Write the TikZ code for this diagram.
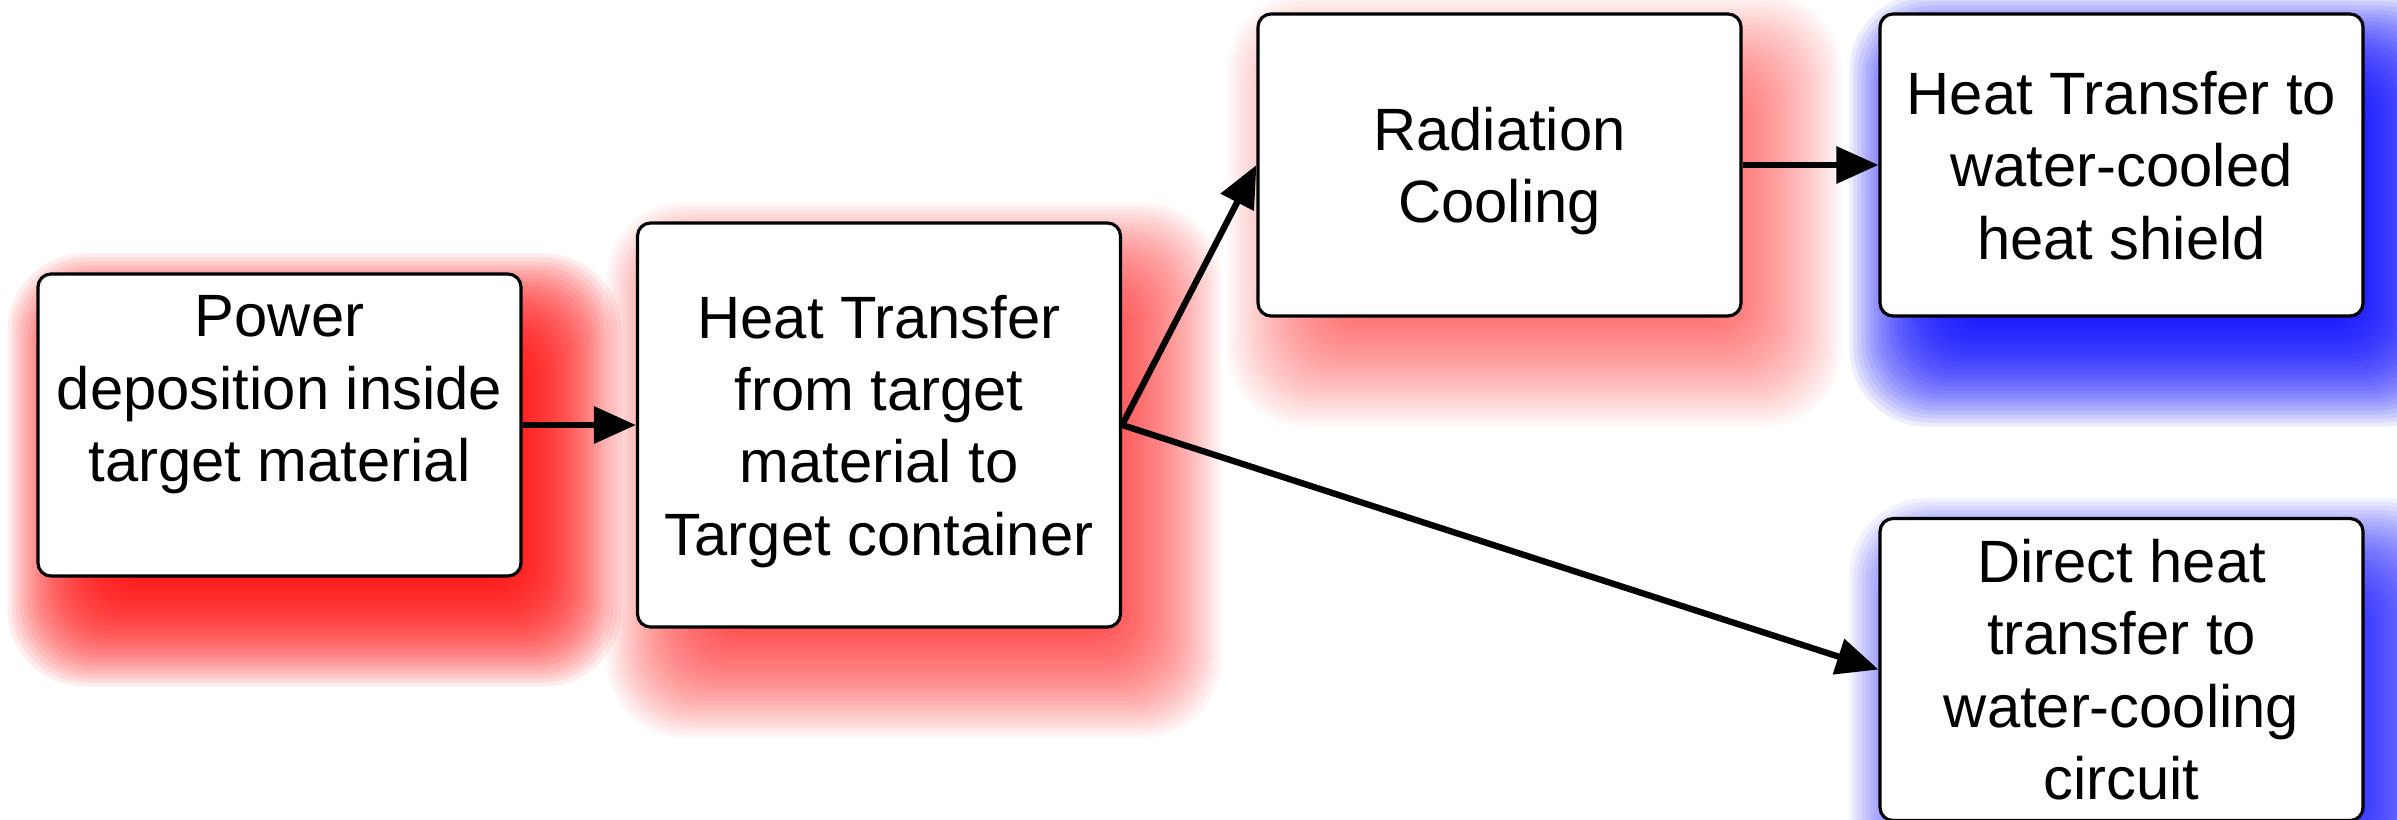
\documentclass[tikz,border=0pt]{standalone}
\usepackage{fontspec}
\setmainfont{Liberation Sans}
\usetikzlibrary{arrows.meta, calc, backgrounds}

\tikzset{
    stage/.style={draw, line width=0.9pt, fill=white, rounded corners=0.13cm,
        minimum width=4.83cm, minimum height=3.02cm, align=center, inner sep=0pt,
        text depth=0pt, font=\fontsize{17}{20.6}\selectfont},
    flow/.style={line width=1.8pt, -{Triangle[length=0.42cm, width=0.36cm]}}
}

% soft coloured glow behind a box: node, colour, peak opacity
\newcommand{\glow}[3]{%
    \pgfmathsetmacro\aa{1-(1-#3)^(1/33)}
    \foreach \k in {0,...,32}{%
        \pgfmathsetmacro\rr{-0.64+0.04*\k}
        \pgfmathsetmacro\rc{0.2+0.45*(\rr+0.64)}
        \fill[#2, opacity=\aa, rounded corners=\rc cm]
            ($(#1.south west)+(0.35-\rr,-0.45-\rr)$) rectangle ($(#1.north east)+(0.35+\rr,-0.45+\rr)$);
    }}

\begin{document}
\begin{tikzpicture}
            \useasboundingbox (0,0) rectangle (23.97,8.19);
            \def\ylow{3.94};
            \def\yhigh{6.54};

            \node[stage] (power) at (2.795,\ylow) {Power\\deposition inside\\target material\\\mbox{}};
            \node[stage, minimum height=4.04cm] (container) at (8.79,\ylow) {Heat Transfer\\from target\\material to\\Target container};
            \node[stage] (radiation) at (14.995,\yhigh) {Radiation\\Cooling};
            \node[stage] (shield) at (21.215,\yhigh) {Heat Transfer to\\water-cooled\\heat shield};
            \node[stage] (circuit) at (21.215,1.495) {Direct heat\\transfer to\\water-cooling\\circuit};

            \begin{scope}[on background layer]
                \glow{power}{red}{0.92}
                \glow{container}{red}{0.72}
                \glow{radiation}{red}{0.6}
                \glow{shield}{blue}{0.92}
                \glow{circuit}{blue}{0.85}
            \end{scope}

            \draw[flow] (power.east) -- (container.west);
            \draw[flow] (container.east) -- (radiation.west);
            \draw[flow] (radiation.east) -- (shield.west);
            \draw[flow] (container.east) -- (circuit.west);
        \end{tikzpicture}
\end{document}
